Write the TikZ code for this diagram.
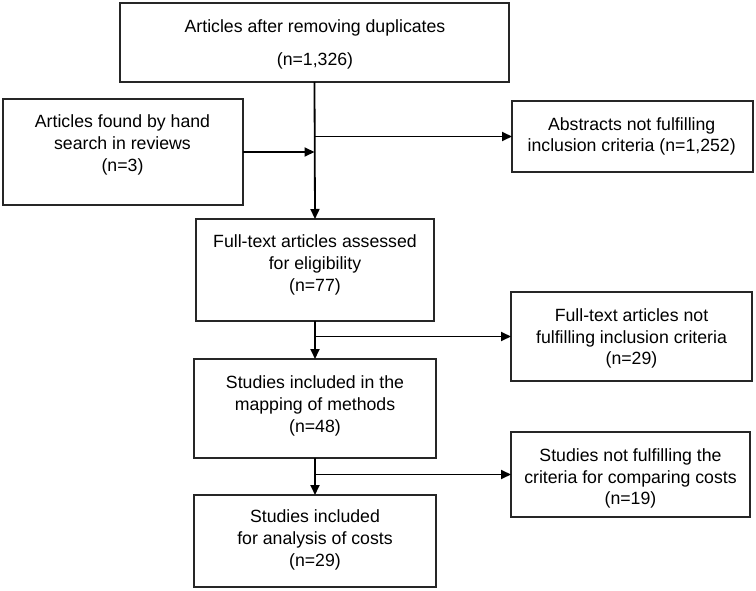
\documentclass[tikz,border=0pt]{standalone}
\usepackage{fontspec}
\setmainfont{Liberation Sans}
\usetikzlibrary{arrows.meta}
\begin{document}
\begin{tikzpicture}[x=1pt,y=-1pt,
  box/.style={draw=black!85, line width=1.3pt, inner sep=0pt, outer sep=0pt},
  txt/.style={align=center, inner sep=0pt, font=\fontsize{17.7}{21.7}\selectfont},
  arr/.style={line width=1.8pt, -{Triangle[length=10pt,width=9pt]}}]
\useasboundingbox (0,0) rectangle (756,591);
% boxes
\node[box, minimum width=389pt, minimum height=79pt] (b1) at (314.5,42.5) {};
\node[box, minimum width=240pt, minimum height=106pt] (bh) at (123,152) {};
\node[box, minimum width=241pt, minimum height=71pt] (r1) at (632.5,136.5) {};
\node[box, minimum width=238pt, minimum height=102pt] (b2) at (315,270) {};
\node[box, minimum width=241pt, minimum height=89pt] (r2) at (631.5,336.5) {};
\node[box, minimum width=242pt, minimum height=99pt] (b3) at (315,408.5) {};
\node[box, minimum width=239pt, minimum height=85pt] (r3) at (630.5,474.5) {};
\node[box, minimum width=242pt, minimum height=92pt] (b4) at (315,541) {};
% texts
\node[txt, font=\fontsize{17.7}{32.5}\selectfont] (t1) at (315,44.5) {Articles after removing duplicates\\(n=1,326)};
\node[txt] (th) at (122.5,145) {Articles found by hand\\search in reviews\\(n=3)};
\node[txt] (tr1) at (631.7,136.5) {Abstracts not fulfilling\\inclusion criteria (n=1,252)};
\node[txt] (t2) at (315,265) {Full-text articles assessed\\for eligibility\\(n=77)};
\node[txt] (tr2) at (631.5,338.5) {Full-text articles not\\fulfilling inclusion criteria\\(n=29)};
\node[txt] (t3) at (315,406) {Studies included in the\\mapping of methods\\(n=48)};
\node[txt] (tr3) at (630.5,478.5) {Studies not fulfilling the\\criteria for comparing costs\\(n=19)};
\node[txt] (t4) at (315,540) {Studies included\\for analysis of costs\\(n=29)};
% connectors
\draw[arr] (b1.south) -- (b2.north);
\draw[arr] (bh.east) -- (bh.east -| b1.south);
\draw[arr] (b1.south |- r1.west) -- (r1.west);
\draw[arr] (b2.south) -- (b3.north);
\draw[arr] (b2.south |- r2.west) -- (r2.west);
\draw[arr] (b3.south) -- (b4.north);
\draw[arr] (b3.south |- r3.west) -- (r3.west);
\end{tikzpicture}
\end{document}
